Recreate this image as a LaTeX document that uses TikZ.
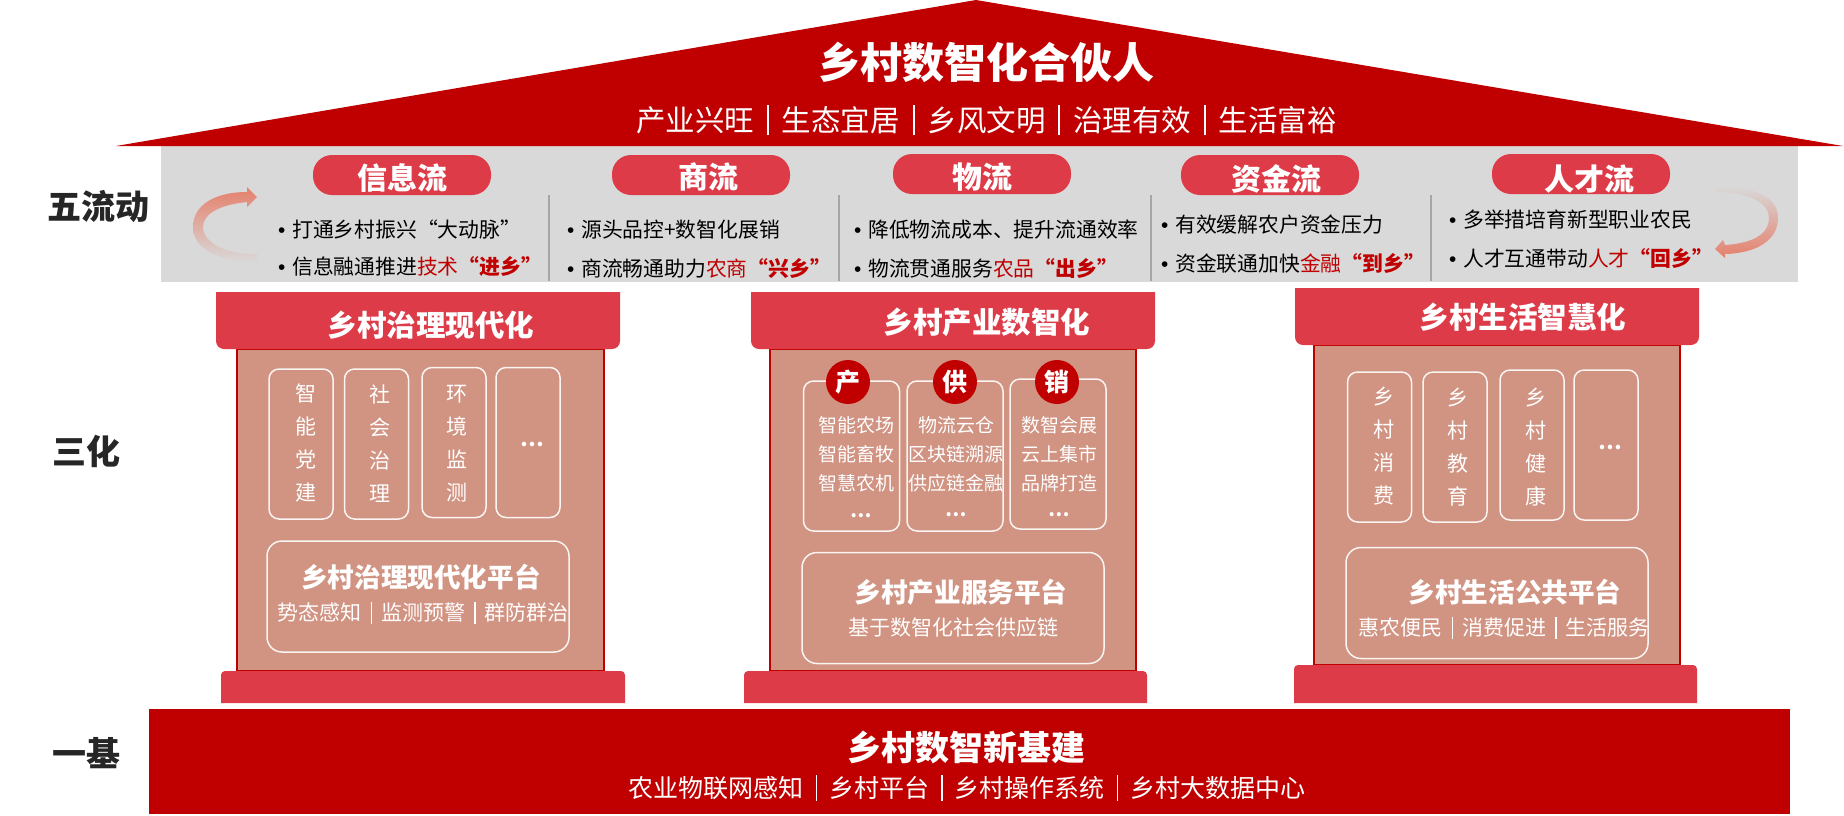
\documentclass[tikz,border=0pt]{standalone}
\usepackage{fontspec}
\setmainfont{Noto Sans CJK SC}
\newfontfamily\dotfont{Liberation Sans}
\definecolor{roofred}{HTML}{C00000}
\definecolor{capred}{HTML}{DD3B48}
\definecolor{bodypink}{HTML}{D19382}
\definecolor{bandgray}{HTML}{D9D9D9}
\definecolor{divgray}{HTML}{A6A6A6}
\definecolor{sidedark}{HTML}{262626}
\definecolor{arrowred}{HTML}{E57F6B}
\newcommand{\fs}[1]{\fontsize{#1}{#1}\selectfont}
\newcommand{\bul}{\makebox[14pt][l]{\dotfont •}}
\newcommand{\hot}[2]{\textcolor{roofred}{#1\textbf{#2}}}
\newcommand{\sep}[1][.44]{\hspace{#1em}\rule[-.14em]{.06em}{1.04em}\hspace{#1em}}

\begin{document}
\begin{tikzpicture}[x=1pt,y=-1pt,
  side label/.style={font=\fs{34}\bfseries,text=sidedark,inner sep=0pt},
  pill/.style={fill=capred,rounded corners=19pt,minimum width=178pt,minimum height=40pt,inner sep=0pt},
  pill text/.style={font=\fs{30}\bfseries,text=white,inner sep=0pt},
  flow text/.style={font=\fs{20.8},text=black,anchor=west,inner sep=0pt},
  pillar title/.style={font=\fs{29.5}\bfseries,text=white,inner sep=0pt},
  small box/.style={draw=white!90!bodypink,line width=1.5pt,rounded corners=10pt,minimum width=64pt,minimum height=150pt,inner sep=0pt},
  wide box/.style={small box,minimum width=96pt},
  platform/.style={draw=white!90!bodypink,line width=1.5pt,rounded corners=15pt,minimum width=302pt,minimum height=111pt,inner sep=0pt},
  box text/.style={font=\fontsize{21}{33}\selectfont,text=white,align=center,inner sep=0pt},
  list text/.style={font=\fontsize{19}{29}\selectfont,text=white,align=center,inner sep=0pt},
  platform title/.style={font=\fs{26.6}\bfseries,text=white,inner sep=0pt},
  platform text/.style={font=\fs{21},text=white,inner sep=0pt},
  badge/.style={circle,fill=roofred,minimum size=44pt,inner sep=0pt,font=\fs{25}\bfseries,text=white}]
  \useasboundingbox (0,0) rectangle (1844,815);

  % roof and flow band
  \fill[bandgray] (161,146) rectangle (1798,282);
  \fill[roofred] (116,146) -- (976,0) -- (1843,146) -- cycle;
  \node[font=\fs{42}\bfseries,text=white,inner sep=0pt] (roof title) at (986,62) {乡村数智化合伙人};
  \node[font=\fs{29.5},text=white,inner sep=0pt] (roof text) at (986.5,120) {产业兴旺\sep 生态宜居\sep 乡风文明\sep 治理有效\sep 生活富裕};

  \node[side label] (five) at (98,207) {五流动};
  \node[side label] (three) at (86,451) {三化};
  \node[side label] (one) at (86,753) {一基};

  \node[pill] (info) at (402,175) {};
  \node[pill] (trade) at (701,175) {};
  \node[pill] (goods) at (982,174) {};
  \node[pill] (fund) at (1270,175) {};
  \node[pill] (talent) at (1581,174) {};
  \node[pill text] (info text) at (402,178) {信息流};
  \node[pill text] (trade text) at (708,177) {商流};
  \node[pill text] (goods text) at (982,177) {物流};
  \node[pill text] (fund text) at (1276,179) {资金流};
  \node[pill text] (talent text) at (1589,179) {人才流};

  \foreach \x in {549,839,1151,1431}
    \draw[divgray,line width=1.2pt] (\x,195) -- (\x,281);

  \node[flow text] (info a) at (278,230) {\bul 打通乡村振兴“大动脉”};
  \node[flow text] (info b) at (278,267) {\bul 信息融通推进\textcolor{roofred}{技术}\hot{}{“进乡”}};
  \node[flow text] (trade a) at (567,230) {\bul 源头品控+数智化展销};
  \node[flow text] (trade b) at (567,268) {\bul 商流畅通助力\textcolor{roofred}{农商}\hot{}{“兴乡”}};
  \node[flow text] (goods a) at (854,230) {\bul 降低物流成本、提升流通效率};
  \node[flow text] (goods b) at (854,268) {\bul 物流贯通服务\textcolor{roofred}{农品}\hot{}{“出乡”}};
  \node[flow text] (fund a) at (1161,225) {\bul 有效缓解农户资金压力};
  \node[flow text] (fund b) at (1161,263) {\bul 资金联通加快\textcolor{roofred}{金融}\hot{}{“到乡”}};
  \node[flow text] (talent a) at (1449,220) {\bul 多举措培育新型职业农民};
  \node[flow text] (talent b) at (1449,258) {\bul 人才互通带动\textcolor{roofred}{人才}\hot{}{“回乡”}};

  % round arrows
  \shade[top color=arrowred,middle color=arrowred!75!bandgray,bottom color=bandgray] (257,262) .. controls (215,262) and (193,247) .. (193,227) .. controls (193,205) and (215,192) .. (247,192) -- (247,187) -- (257,197) -- (247,207) -- (247,202) .. controls (217,205) and (203,215) .. (203,227) .. controls (203,242) and (225,255) .. (257,254) -- cycle;
  \shade[top color=bandgray,middle color=arrowred!75!bandgray,bottom color=arrowred] (1715,186) .. controls (1755,186) and (1778,197) .. (1778,218) .. controls (1778,238) and (1760,253) .. (1725,254) -- (1725,258) -- (1715,249) -- (1723,240) -- (1725,245) .. controls (1755,243) and (1769,233) .. (1769,218) .. controls (1769,203) and (1750,192) .. (1715,192) -- cycle;

  % left pillar
  \draw[roofred,fill=bodypink,line width=1.5pt] (237,349) rectangle (604,671);
  \fill[capred] (216,292) -- (620,292) {[rounded corners=8pt] -- (620,349) -- (216,349)} -- cycle;
  \fill[capred] (221,703) {[rounded corners=4pt] -- (221,671) -- (625,671)} -- (625,703) -- cycle;
  \node[pillar title] (gov title) at (431,325) {乡村治理现代化};
  \node[small box] (gov a) at (301,444) {};
  \node[small box] (gov b) at (376.5,444) {};
  \node[small box] (gov c) at (454,442.5) {};
  \node[small box] (gov d) at (528,442.5) {};
  \node[box text] (gov a text) at (306,442.5) {智\\能\\党\\建};
  \node[box text] (gov b text) at (380,443.5) {社\\会\\治\\理};
  \node[box text] (gov c text) at (457,444) {环\\境\\监\\测};
  \node[box text] (gov d text) at (532,444) {\textbf{…}};
  \node[platform] (gov platform) at (418,596.5) {};
  \node[platform title] (gov platform title) at (421,577) {乡村治理现代化平台};
  \node[platform text] (gov platform text) at (423,613) {势态感知\sep 监测预警\sep 群防群治};

  % middle pillar
  \draw[roofred,fill=bodypink,line width=1.5pt] (770,349) rectangle (1136,671);
  \fill[capred] (751,292) -- (1155,292) {[rounded corners=8pt] -- (1155,349) -- (751,349)} -- cycle;
  \fill[capred] (744,703) {[rounded corners=4pt] -- (744,671) -- (1147,671)} -- (1147,703) -- cycle;
  \node[pillar title] (ind title) at (987,322) {乡村产业数智化};
  \node[wide box] (ind a) at (851.5,456) {};
  \node[wide box] (ind b) at (955,456) {};
  \node[wide box] (ind c) at (1058,454) {};
  \node[badge] (ind a badge) at (848,382) {产};
  \node[badge] (ind b badge) at (955,382) {供};
  \node[badge] (ind c badge) at (1057,382) {销};
  \node[list text] (ind a text) at (856,454) {智能农场\\智能畜牧\\智慧农机};
  \node[list text] (ind b text) at (956,454) {物流云仓\\区块链溯源\\供应链金融};
  \node[list text] (ind c text) at (1059,454) {数智会展\\云上集市\\品牌打造};
  \node[list text] (ind a more) at (861,516) {\textbf{…}};
  \node[list text] (ind b more) at (956,515) {\textbf{…}};
  \node[list text] (ind c more) at (1059,515) {\textbf{…}};
  \node[platform] (ind platform) at (953,608) {};
  \node[platform title] (ind platform title) at (961,592) {乡村产业服务平台};
  \node[platform text] (ind platform text) at (953,627) {基于数智化社会供应链};

  % right pillar
  \draw[roofred,fill=bodypink,line width=1.5pt] (1314,345) rectangle (1680,665);
  \fill[capred] (1295,288) -- (1699,288) {[rounded corners=8pt] -- (1699,345) -- (1295,345)} -- cycle;
  \fill[capred] (1294,703) {[rounded corners=4pt] -- (1294,665) -- (1697,665)} -- (1697,703) -- cycle;
  \node[pillar title] (life title) at (1523,317) {乡村生活智慧化};
  \node[small box] (life a) at (1379.5,447) {};
  \node[small box] (life b) at (1455,447) {};
  \node[small box] (life c) at (1532,445) {};
  \node[small box] (life d) at (1606,445) {};
  \node[box text] (life a text) at (1384,446.5) {乡\\村\\消\\费};
  \node[box text] (life b text) at (1458,447) {乡\\村\\教\\育};
  \node[box text] (life c text) at (1536,447) {乡\\村\\健\\康};
  \node[box text] (life d text) at (1610,447) {\textbf{…}};
  \node[platform] (life platform) at (1497,603) {};
  \node[platform title] (life platform title) at (1515,592) {乡村生活公共平台};
  \node[platform text] (life platform text) at (1504,628) {惠农便民\sep 消费促进\sep 生活服务};

  % foundation
  \fill[roofred] (149,709) rectangle (1790,814);
  \node[font=\fs{34}\bfseries,text=white,inner sep=0pt] (base title) at (966,747) {乡村数智新基建};
  \node[font=\fs{25},text=white,inner sep=0pt] (base text) at (967,788) {农业物联网感知\sep[.48]乡村平台\sep[.48]乡村操作系统\sep[.48]乡村大数据中心};
\end{tikzpicture}
\end{document}
